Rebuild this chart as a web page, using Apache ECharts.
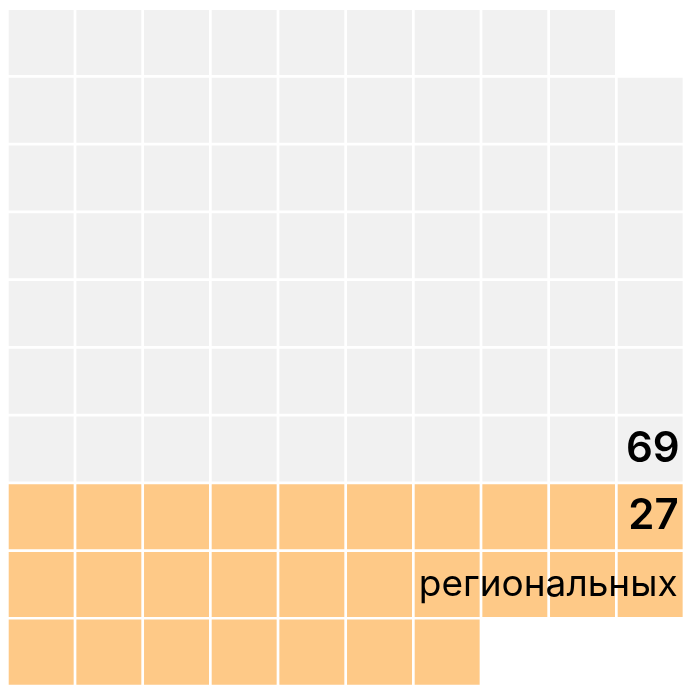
<!DOCTYPE html>
<html>
<head>
<meta charset="utf-8">
<script src="https://cdn.jsdelivr.net/npm/echarts@6/dist/echarts.min.js"></script>
<style>html,body{margin:0;padding:0;background:#fff}#c{width:684px;height:686px}</style>
</head>
<body>
<div id="c"></div>
<script>
const categories = ['всего', 'региональных'];
const values = [69, 27];
const valueLabels = ['69', '27'];
const nameLabels = ['', 'региональных'];
const colors = ['#f1f1f1', '#fec987'];

const COLS = 10, ROWS = 10, SPLIT = 7;

const cells = [];
// first category grows upward from the split line, second grows downward
for (let i = 0; i < values[0]; i++) {
  cells.push([i % COLS, SPLIT - 1 - Math.floor(i / COLS), 0]);
}
for (let i = 0; i < values[1]; i++) {
  cells.push([i % COLS, SPLIT + Math.floor(i / COLS), 1]);
}
const labels = [
  [COLS - 1, SPLIT - 1, valueLabels[0], 600, 42, 3],
  [COLS - 1, SPLIT, valueLabels[1], 600, 42, 4],
  [COLS - 1, SPLIT + 1, nameLabels[1], 'normal', 37, 5]
];

const GAP = 2.7;
const chart = echarts.init(document.getElementById('c'), null, {renderer: 'canvas'});
chart.setOption({
  animation: false,
  grid: {left: 7.35, top: 8.65, width: 680, height: 680},
  xAxis: {type: 'value', min: 0, max: COLS, show: false},
  yAxis: {type: 'value', min: 0, max: ROWS, inverse: true, show: false},
  series: [{
    type: 'custom',
    data: cells,
    renderItem: function (params, api) {
      const c = api.value(0), r = api.value(1), k = api.value(2);
      const p0 = api.coord([c, r]);
      const p1 = api.coord([c + 1, r + 1]);
      return {
        type: 'rect',
        shape: {x: p0[0] + GAP / 2, y: p0[1] + GAP / 2, width: p1[0] - p0[0] - GAP, height: p1[1] - p0[1] - GAP},
        style: {fill: colors[k]}
      };
    }
  }, {
    type: 'custom',
    data: labels,
    z: 5,
    renderItem: function (params, api) {
      const d = labels[params.dataIndex];
      const p0 = api.coord([d[0], d[1]]);
      const p1 = api.coord([d[0] + 1, d[1] + 1]);
      return {
        type: 'text',
        x: p1[0] - GAP / 2 - d[5],
        y: (p0[1] + p1[1]) / 2,
        style: {
          text: d[2], fill: '#000', fontSize: d[4], fontWeight: d[3],
          fontFamily: 'Inter, "Noto Sans", sans-serif',
          align: 'right', verticalAlign: 'middle'
        }
      };
    }
  }]
});
</script>
</body>
</html>
